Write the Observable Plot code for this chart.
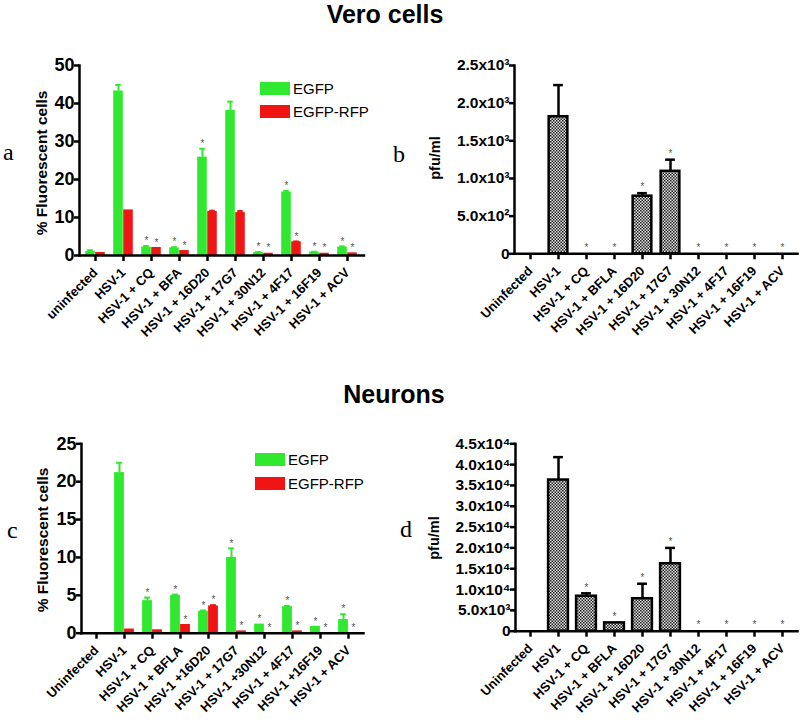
<!DOCTYPE html>
<html><head><meta charset="utf-8">
<script src="https://cdn.jsdelivr.net/npm/d3@7"></script>
<script src="https://cdn.jsdelivr.net/npm/@observablehq/plot@0.6"></script>
<style>
body{margin:0;background:#fff;}
#root{position:relative;width:800px;height:722px;overflow:hidden;background:#fff;font-family:"Liberation Sans",Arial,sans-serif;}
.panel{position:absolute;}
#overlay{position:absolute;left:0;top:0;pointer-events:none;}
</style></head><body><div id="root"></div>
<script>
// ---------- data ----------
const catsA = ["uninfected","HSV-1","HSV-1 + CQ","HSV-1 + BFA","HSV-1 + 16D20","HSV-1 + 17G7","HSV-1 + 30N12","HSV-1 + 4F17","HSV-1 + 16F19","HSV-1 + ACV"];
const egfpA    = [1.1, 43.3, 2.2, 2.0, 25.9, 38.2, 0.8, 16.7, 0.9, 2.2];
const egfpErrA = [0.3, 1.6, 0.3, 0.2, 2.2, 2.3, 0.1, 0.3, 0.1, 0.2];
const rfpA     = [0.8, 12.0, 2.1, 1.3, 11.6, 11.3, 0.6, 3.6, 0.6, 0.7];
const rfpErrA  = [0, 0, 0, 0, 0.2, 0.4, 0, 0.1, 0, 0];
const starEgfpA = [0,0,1,1,1,0,1,1,1,1];
const starRfpA  = [0,0,1,1,0,0,1,1,1,1];

const catsB = ["Uninfected","HSV-1","HSV-1 + CQ","HSV-1 + BFLA","HSV-1 + 16D20","HSV-1 + 17G7","HSV-1 + 30N12","HSV-1 + 4F17","HSV-1 + 16F19","HSV-1 + ACV"];
const pfuB    = [0, 1820, 0, 0, 765, 1095, 0, 0, 0, 0];
const pfuErrB = [0, 420, 0, 0, 40, 155, 0, 0, 0, 0];
const starB   = [0,0,1,1,1,1,1,1,1,1];

const catsC = ["Uninfected","HSV-1","HSV-1 + CQ","HSV-1 + BFLA","HSV-1 +16D20","HSV-1 + 17G7","HSV-1 +30N12","HSV-1 + 4F17","HSV-1 +16F19","HSV-1 + ACV"];
const egfpC    = [0, 21.2, 4.3, 5.0, 2.9, 10.0, 1.2, 3.5, 0.9, 1.8];
const egfpErrC = [0, 1.3, 0.4, 0.1, 0.1, 1.2, 0, 0.1, 0, 0.7];
const rfpC     = [0, 0.55, 0.45, 1.15, 3.6, 0.3, 0, 0.3, 0, 0];
const rfpErrC  = [0, 0, 0, 0, 0.1, 0, 0, 0, 0, 0];
const starEgfpC = [0,0,1,1,1,1,1,1,1,1];
const starRfpC  = [0,0,0,1,1,1,1,1,1,1];

const catsD = ["Uninfected","HSV1","HSV-1 + CQ","HSV-1 + BFLA","HSV-1 + 16D20","HSV-1 + 17G7","HSV-1 + 30N12","HSV-1 + 4F17","HSV-1 + 16F19","HSV-1 + ACV"];
const pfuD    = [0, 36300, 8400, 2000, 7800, 16200, 0, 0, 0, 0];
const pfuErrD = [0, 5500, 700, 0, 3600, 3800, 0, 0, 0, 0];
const starD   = [0,0,1,1,1,1,1,1,1,1];

const ticksA = [0,10,20,30,40,50];
const ticksB = [0,500,1000,1500,2000,2500];
const ticksC = [0,5,10,15,20,25];
const ticksD = [0,5000,10000,15000,20000,25000,30000,35000,40000,45000];

// ---------- styles ----------
const GREEN = "#2fe82f";
const RED = "#f01414";
const FONT = "'Liberation Sans', Arial, Helvetica, sans-serif";
const root = document.getElementById("root");

function sci(v){
  if (v === 0) return "0";
  const e = Math.floor(Math.log10(v) + 1e-9);
  const m = v / Math.pow(10, e);
  const sup = {2:"²",3:"³",4:"⁴"};
  return m.toFixed(1) + "x10" + sup[e];
}

function place(svg, left, top){
  const div = document.createElement("div");
  div.className = "panel";
  div.style.left = left + "px";
  div.style.top = top + "px";
  div.appendChild(svg);
  root.appendChild(div);
}

function commonAxes(ticks, fmt, yFont){
  return [
    Plot.axisY({ticks, tickFormat: fmt, tickSize: 5, tickPadding: 0, strokeWidth: 2.5, fontSize: yFont, fontWeight: "bold", label: null}),
    Plot.axisX({tickSize: 6, tickPadding: 9, strokeWidth: 2.5, tickRotate: -45, fontSize: 13, fontWeight: "bold", label: null}),
    Plot.frame({anchor: "left", strokeWidth: 2.5}),
    Plot.frame({anchor: "bottom", strokeWidth: 2.5})
  ];
}

function grouped(o){
  const n = o.cats.length;
  const bw = (o.width - o.ml - o.mr) / n;
  const half = bw / 2;
  const barW = 10;
  const G = o.cats.map((c,i) => ({c, v: o.g[i], e: o.gErr[i], s: o.sg[i]}));
  const R = o.cats.map((c,i) => ({c, v: o.r[i], e: o.rErr[i], s: o.sr[i]}));
  return Plot.plot({
    width: o.width, height: o.height,
    marginLeft: o.ml, marginRight: o.mr, marginTop: o.mt, marginBottom: o.mb,
    style: {fontFamily: FONT, color: "#000", background: "transparent", overflow: "visible"},
    x: {domain: o.cats, padding: 0},
    y: {domain: [0, o.yMax]},
    marks: [
      Plot.barY(G.filter(d => d.v > 0), {x: "c", y: "v", fill: GREEN, insetLeft: half - barW, insetRight: half}),
      Plot.barY(R.filter(d => d.v > 0), {x: "c", y: "v", fill: RED, insetLeft: half, insetRight: half - barW}),
      Plot.ruleX(G.filter(d => d.e > 0), {x: "c", y1: "v", y2: d => d.v + d.e, stroke: GREEN, strokeWidth: 2, dx: -barW/2}),
      Plot.tickY(G.filter(d => d.e > 0), {x: "c", y: d => d.v + d.e, stroke: GREEN, strokeWidth: 2, insetLeft: half - barW/2 - 3, insetRight: half + barW/2 - 3}),
      Plot.ruleX(R.filter(d => d.e > 0), {x: "c", y1: "v", y2: d => d.v + d.e, stroke: RED, strokeWidth: 2, dx: barW/2}),
      Plot.tickY(R.filter(d => d.e > 0), {x: "c", y: d => d.v + d.e, stroke: RED, strokeWidth: 2, insetLeft: half + barW/2 - 3, insetRight: half - barW/2 - 3}),
      Plot.text(G.filter(d => d.s), {x: "c", y: d => d.v + d.e, text: () => "*", dx: -barW/2, dy: -5, fill: "#555", fontSize: 10}),
      Plot.text(R.filter(d => d.s), {x: "c", y: d => d.v + d.e, text: () => "*", dx: barW/2, dy: -5, fill: "#555", fontSize: 10}),
      ...commonAxes(o.ticks, d => String(d), 18)
    ]
  });
}

function single(o){
  const n = o.cats.length;
  const bw = (o.width - o.ml - o.mr) / n;
  const half = bw / 2;
  const D = o.cats.map((c,i) => ({c, v: o.v[i], e: o.err[i], s: o.st[i]}));
  const svg = Plot.plot({
    width: o.width, height: o.height,
    marginLeft: o.ml, marginRight: o.mr, marginTop: o.mt, marginBottom: o.mb,
    style: {fontFamily: FONT, color: "#000", background: "transparent", overflow: "visible"},
    x: {domain: o.cats, padding: 0},
    y: {domain: [0, o.yMax]},
    marks: [
      Plot.ruleX(D.filter(d => d.e > 0), {x: "c", y1: "v", y2: d => d.v + d.e, stroke: "#000", strokeWidth: 2.5}),
      Plot.tickY(D.filter(d => d.e > 0), {x: "c", y: d => d.v + d.e, stroke: "#000", strokeWidth: 2.5, insetLeft: half - 5, insetRight: half - 5}),
      Plot.barY(D.filter(d => d.v > 0), {x: "c", y: "v", fill: "url(#" + o.pid + ")", stroke: "#000", strokeWidth: 2.5, insetLeft: half - o.barW/2, insetRight: half - o.barW/2}),
      Plot.text(D.filter(d => d.s), {x: "c", y: d => d.v + d.e, text: () => "*", dy: -6, fill: "#555", fontSize: 10}),
      ...commonAxes(o.ticks, sci, 15.5)
    ]
  });
  const defs = d3.select(svg).insert("defs", ":first-child");
  const p = defs.append("pattern").attr("id", o.pid).attr("patternUnits", "userSpaceOnUse").attr("width", 3).attr("height", 3);
  p.append("rect").attr("width", 3).attr("height", 3).attr("fill", "#e0e0e0");
  p.append("rect").attr("width", 1.5).attr("height", 1.5).attr("fill", "#222");
  p.append("rect").attr("x", 1.5).attr("y", 1.5).attr("width", 1.5).attr("height", 1.5).attr("fill", "#222");
  return svg;
}

place(grouped({cats: catsA, g: egfpA, gErr: egfpErrA, r: rfpA, rErr: rfpErrA, sg: starEgfpA, sr: starRfpA,
  yMax: 50, ticks: ticksA, width: 400, height: 380, ml: 79, mr: 36.5, mt: 65, mb: 125}), 0, 0);

place(single({cats: catsB, v: pfuB, err: pfuErrB, st: starB, yMax: 2500, ticks: ticksB, pid: "hatchB", barW: 19,
  width: 400, height: 380, ml: 114, mr: 3, mt: 65, mb: 126.7}), 400, 0);

place(grouped({cats: catsC, g: egfpC, gErr: egfpErrC, r: rfpC, rErr: rfpErrC, sg: starEgfpC, sr: starRfpC,
  yMax: 25, ticks: ticksC, width: 400, height: 352, ml: 81, mr: 37, mt: 73.3, mb: 89.3}), 0, 370);

place(single({cats: catsD, v: pfuD, err: pfuErrD, st: starD, yMax: 45000, ticks: ticksD, pid: "hatchD", barW: 20,
  width: 400, height: 352, ml: 115, mr: 3, mt: 73.3, mb: 91.3}), 400, 370);

// ---------- overlay text: titles, panel letters, axis titles, legends ----------
const ov = d3.select(root).append("svg").attr("id", "overlay").attr("width", 800).attr("height", 722)
  .style("font-family", FONT);

ov.append("text").attr("x", 385).attr("y", 23).attr("text-anchor", "middle").attr("font-size", 25).attr("font-weight", "bold").text("Vero cells");
ov.append("text").attr("x", 394).attr("y", 403).attr("text-anchor", "middle").attr("font-size", 25).attr("font-weight", "bold").text("Neurons");

const serif = "'Liberation Serif', 'Times New Roman', serif";
[["a", 3, 160], ["b", 393, 162], ["c", 7, 538], ["d", 400, 537]].forEach(([t,x,y]) =>
  ov.append("text").attr("x", x).attr("y", y).attr("font-family", serif).attr("font-size", 24).text(t));

function vlabel(t, x, y, fs){
  ov.append("text").attr("transform", `translate(${x},${y}) rotate(-90)`).attr("text-anchor", "middle")
    .attr("font-size", fs).attr("font-weight", "bold").text(t);
}
vlabel("% Fluorescent cells", 47, 163, 15.5);
vlabel("% Fluorescent cells", 48, 540, 15.5);
vlabel("pfu/ml", 440, 158, 14.5);
vlabel("pfu/ml", 439, 538, 14.5);

function legend(x, y1, y2){
  ov.append("rect").attr("x", x).attr("y", y1).attr("width", 30).attr("height", 13).attr("fill", GREEN);
  ov.append("text").attr("x", x + 33).attr("y", y1 + 12).attr("font-size", 15).text("EGFP");
  ov.append("rect").attr("x", x).attr("y", y2).attr("width", 30).attr("height", 13).attr("fill", RED);
  ov.append("text").attr("x", x + 33).attr("y", y2 + 12).attr("font-size", 15).text("EGFP-RFP");
}
legend(260, 82, 105);
legend(255, 453, 477);
</script>
</body></html>
